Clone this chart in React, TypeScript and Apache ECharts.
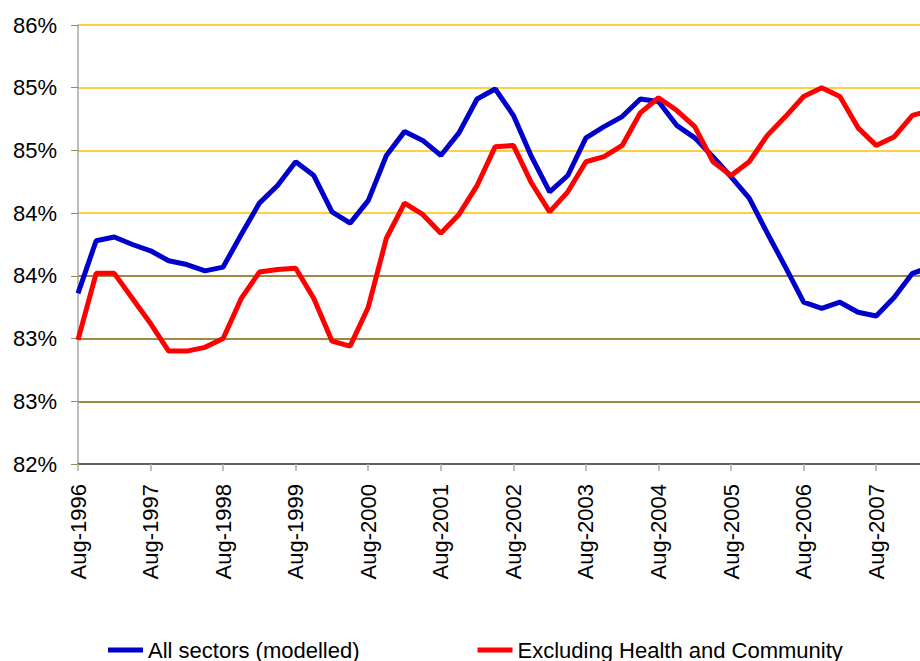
import React, { useEffect, useRef } from "react";
import * as echarts from "echarts";

const categories: string[] = [
  "Aug-1996", "Nov-1996", "Feb-1997", "May-1997",
  "Aug-1997", "Nov-1997", "Feb-1998", "May-1998",
  "Aug-1998", "Nov-1998", "Feb-1999", "May-1999",
  "Aug-1999", "Nov-1999", "Feb-2000", "May-2000",
  "Aug-2000", "Nov-2000", "Feb-2001", "May-2001",
  "Aug-2001", "Nov-2001", "Feb-2002", "May-2002",
  "Aug-2002", "Nov-2002", "Feb-2003", "May-2003",
  "Aug-2003", "Nov-2003", "Feb-2004", "May-2004",
  "Aug-2004", "Nov-2004", "Feb-2005", "May-2005",
  "Aug-2005", "Nov-2005", "Feb-2006", "May-2006",
  "Aug-2006", "Nov-2006", "Feb-2007", "May-2007",
  "Aug-2007", "Nov-2007", "Feb-2008", "May-2008",
];

const allSectors: number[] = [
  83.36, 83.78, 83.81, 83.75, 83.70, 83.62, 83.59, 83.54,
  83.57, 83.83, 84.08, 84.22, 84.41, 84.30, 84.01, 83.92,
  84.10, 84.46, 84.65, 84.58, 84.46, 84.64, 84.91, 84.99,
  84.78, 84.45, 84.17, 84.30, 84.60, 84.69, 84.77, 84.91,
  84.89, 84.70, 84.60, 84.45, 84.29, 84.12, 83.84, 83.57,
  83.29, 83.24, 83.29, 83.21, 83.18, 83.33, 83.52, 83.57,
];

const exclHealth: number[] = [
  82.99, 83.52, 83.52, 83.32, 83.12, 82.90, 82.90, 82.93,
  83.00, 83.32, 83.53, 83.55, 83.56, 83.32, 82.98, 82.94,
  83.25, 83.80, 84.08, 83.99, 83.84, 83.99, 84.22, 84.53,
  84.54, 84.24, 84.01, 84.17, 84.41, 84.45, 84.54, 84.80,
  84.92, 84.82, 84.69, 84.41, 84.30, 84.41, 84.62, 84.77,
  84.93, 85.00, 84.93, 84.68, 84.54, 84.61, 84.78, 84.82,
];

const yTickLabels: string[] = ["82%", "83%", "83%", "84%", "84%", "85%", "85%", "86%"];
const yMin = 82;
const yMax = 85.5;
const yInterval = 0.5;

const seriesNames: string[] = ["All sectors (modelled)", "Excluding Health and Community"];

const FONT = 'Arial, "Liberation Sans", sans-serif';

export default function App() {
  const ref = useRef<HTMLDivElement>(null);

  useEffect(() => {
    if (!ref.current) return;
    const chart = echarts.init(ref.current, undefined, { renderer: "svg" });
    chart.setOption({
      animation: false,
      backgroundColor: "#ffffff",
      textStyle: { fontFamily: FONT },
      grid: {
        left: 78,
        top: 25,
        width: 852.6,
        height: 439,
        containLabel: false,
        outerBoundsMode: "none",
      },
      legend: {
        data: seriesNames,
        left: 108,
        top: 638,
        padding: 0,
        icon: "rect",
        itemWidth: 35,
        itemHeight: 5,
        itemGap: 118,
        textStyle: { fontSize: 22, color: "#000000", fontFamily: FONT, lineHeight: 24 },
      },
      xAxis: {
        type: "category",
        data: categories,
        boundaryGap: false,
        axisLine: { lineStyle: { color: "#555555", width: 1.5 } },
        axisTick: {
          show: true,
          interval: 3,
          length: 7,
          lineStyle: { color: "#aaaaaa", width: 1.5 },
        },
        axisLabel: {
          interval: 3,
          rotate: 90,
          margin: 20,
          fontSize: 22,
          color: "#000000",
          fontFamily: FONT,
        },
        splitLine: { show: false },
      },
      yAxis: {
        type: "value",
        min: yMin,
        max: yMax,
        interval: yInterval,
        axisLine: { show: true, lineStyle: { color: "#a6a6a6", width: 1.5 } },
        axisTick: { show: true, length: 7, lineStyle: { color: "#9a8a50", width: 1 } },
        axisLabel: {
          margin: 21,
          fontSize: 22,
          color: "#000000",
          fontFamily: FONT,
          formatter: (v: number) => {
            const idx = Math.round((v - yMin) / yInterval);
            return yTickLabels[idx] ?? "";
          },
        },
        splitLine: {
          show: true,
          lineStyle: {
            color: [
              "#555555", "#7F6000", "#7F6000", "#7F6000",
              "#FFC000", "#FFC000", "#FFC000", "#FFC000",
            ],
            width: 1.5,
          },
        },
      },
      series: [
        {
          name: seriesNames[0],
          type: "line",
          data: allSectors,
          showSymbol: false,
          symbol: "none",
          lineStyle: { color: "#0000CC", width: 5 },
          itemStyle: { color: "#0000CC" },
        },
        {
          name: seriesNames[1],
          type: "line",
          data: exclHealth,
          showSymbol: false,
          symbol: "none",
          lineStyle: { color: "#FF0000", width: 5 },
          itemStyle: { color: "#FF0000" },
        },
      ],
    });
    return () => chart.dispose();
  }, []);

  return (
    <div
      ref={ref}
      style={{ position: "absolute", left: 0, top: 0, width: 920, height: 661, background: "#fff" }}
    />
  );
}
